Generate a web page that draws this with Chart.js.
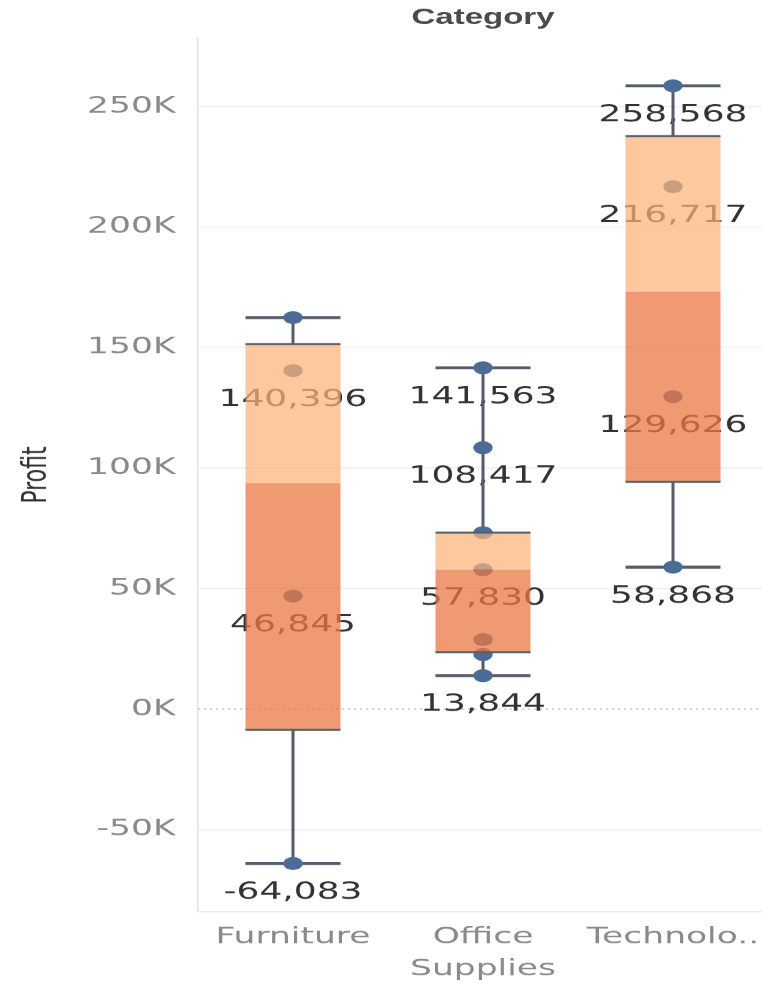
<!DOCTYPE html>
<html>
<head>
<meta charset="utf-8">
<title>Profit by Category</title>
<script src="https://cdn.jsdelivr.net/npm/chart.js@4.4.1/dist/chart.umd.min.js"></script>
<style>
    html, body { margin: 0; padding: 0; background: #fff; overflow: hidden; }
</style>
</head>
<body>
<!-- canvas is drawn 512 wide and stretched x1.5, like the original screenshot; the window crops the last few px -->
<canvas id="profitChart" width="512" height="984" style="display:block;width:768px;height:984px"></canvas>
<script>
// Data
const categories = ['Furniture', 'Office Supplies', 'Technology'];
const tickLabels = ['Furniture', ['Office', 'Supplies'], 'Technolo..'];

const furnitureProfit = [162400, 140396, 46845, -64083];
const officeProfit = [141563, 108417, 73200, 57830, 28800, 22600, 13844];
const technologyProfit = [258568, 216717, 129626, 58868];

const lowerQuartile = [-8619, 23500, 94247];
const medianProfit = [93620, 57830, 173172];
const upperQuartile = [151400, 73200, 237642];
const whiskerLow = [-64083, 13844, 58868];
const whiskerHigh = [162400, 141563, 258568];

const labelledProfit = [
    [140396, 46845, -64083],
    [141563, 108417, 57830, 13844],
    [258568, 216717, 129626, 58868]
];

const FONT = 'DejaVu Sans';
const LINE_COLOR = '#555d69';

// Bigotes, etiquetas y linea del cero
const boxPlotPlugin = {
    id: 'boxPlot',

    beforeDatasetsDraw(chart) {
        const { ctx, chartArea, scales: { x, y } } = chart;
        const boxes = chart.getDatasetMeta(1).data;
        ctx.save();

        // dotted zero line
        const y0 = y.getPixelForValue(0);
        ctx.strokeStyle = '#c6c6c6';
        ctx.lineWidth = 1.5;
        ctx.setLineDash([1.5, 2.5]);
        ctx.beginPath();
        ctx.moveTo(chartArea.left, y0);
        ctx.lineTo(chartArea.right, y0);
        ctx.stroke();
        ctx.setLineDash([]);

        // value labels (under the boxes)
        ctx.font = `24px "${FONT}"`;
        ctx.fillStyle = '#333333';
        ctx.textAlign = 'center';
        ctx.textBaseline = 'middle';
        labelledProfit.forEach((values, i) => {
            const cx = x.getPixelForValue(i);
            values.forEach(v => {
                ctx.fillText(v.toLocaleString('en-US'), cx, y.getPixelForValue(v) + 29);
            });
        });

        // whiskers
        ctx.strokeStyle = LINE_COLOR;
        categories.forEach((c, i) => {
            const cx = x.getPixelForValue(i);
            const half = boxes[i].width / 2;
            ctx.lineWidth = 2;
            ctx.beginPath();
            ctx.moveTo(cx, y.getPixelForValue(upperQuartile[i]));
            ctx.lineTo(cx, y.getPixelForValue(whiskerHigh[i]));
            ctx.moveTo(cx, y.getPixelForValue(lowerQuartile[i]));
            ctx.lineTo(cx, y.getPixelForValue(whiskerLow[i]));
            ctx.stroke();

            ctx.lineWidth = 3;
            ctx.beginPath();
            [whiskerHigh[i], whiskerLow[i]].forEach(v => {
                const py = y.getPixelForValue(v);
                ctx.moveTo(cx - half, py);
                ctx.lineTo(cx + half, py);
            });
            ctx.stroke();
        });
        ctx.restore();
    },

    afterDatasetsDraw(chart) {
        const { ctx, scales: { x, y } } = chart;
        const boxes = chart.getDatasetMeta(1).data;
        ctx.save();
        ctx.strokeStyle = LINE_COLOR;
        ctx.lineWidth = 2;
        ctx.beginPath();
        categories.forEach((c, i) => {
            const cx = x.getPixelForValue(i);
            const half = boxes[i].width / 2;
            [upperQuartile[i], lowerQuartile[i]].forEach(v => {
                const py = y.getPixelForValue(v);
                ctx.moveTo(cx - half, py);
                ctx.lineTo(cx + half, py);
            });
        });
        ctx.stroke();
        ctx.restore();
    }
};

function pointsFor(index, values) {
    return values.map(v => ({ x: categories[index], y: v }));
}

Chart.defaults.font.family = FONT;

new Chart(document.getElementById('profitChart'), {
    data: {
        labels: categories,
        datasets: [
            {
                type: 'line',
                label: 'Profit',
                order: 2,
                showLine: false,
                data: [
                    ...pointsFor(0, furnitureProfit),
                    ...pointsFor(1, officeProfit),
                    ...pointsFor(2, technologyProfit)
                ],
                pointRadius: 6.5,
                pointHoverRadius: 6.5,
                pointBorderWidth: 0,
                pointBackgroundColor: '#4a6c96'
            },
            {
                type: 'bar',
                label: 'Lower box',
                order: 1,
                data: categories.map((c, i) => [lowerQuartile[i], medianProfit[i]]),
                backgroundColor: 'rgba(234, 120, 67, 0.75)',
                borderWidth: 0,
                grouped: false,
                barPercentage: 0.5,
                categoryPercentage: 1
            },
            {
                type: 'bar',
                label: 'Upper box',
                order: 1,
                data: categories.map((c, i) => [medianProfit[i], upperQuartile[i]]),
                backgroundColor: 'rgba(252, 179, 119, 0.72)',
                borderWidth: 0,
                grouped: false,
                barPercentage: 0.5,
                categoryPercentage: 1
            }
        ]
    },
    options: {
        responsive: false,
        devicePixelRatio: 1.5,
        animation: false,
        layout: { autoPadding: false, padding: 0 },
        plugins: {
            legend: { display: false },
            tooltip: { enabled: false },
            title: {
                display: true,
                fullSize: false,
                text: 'Category',
                color: '#4a4a4a',
                font: { family: 'Liberation Sans', size: 22, weight: 'bold' },
                padding: { top: 5, bottom: 6.6 }
            }
        },
        scales: {
            x: {
                offset: true,
                grid: { color: 'rgba(0,0,0,0)', drawTicks: false },
                border: { color: '#e4e4e4' },
                ticks: {
                    color: '#8a8a8a',
                    font: { size: 23, lineHeight: 1.4 },
                    padding: 9,
                    maxRotation: 0,
                    autoSkip: false,
                    callback: (v, i) => tickLabels[i]
                },
                afterFit: scale => {
                    scale.height = 72;
                    scale.paddingLeft = 0;
                    scale.paddingRight = 0;
                }
            },
            y: {
                min: -84200,
                max: 278400,
                grid: {
                    drawTicks: false,
                    color: c => (c.tick && c.tick.value === 0 ? 'rgba(0,0,0,0)' : '#ececec')
                },
                border: { color: '#e4e4e4' },
                ticks: {
                    includeBounds: false,
                    color: '#8a8a8a',
                    font: { size: 23 },
                    padding: 15,
                    callback: v => (v / 1000) + 'K'
                },
                title: {
                    display: true,
                    text: 'Profit',
                    color: '#333333',
                    font: { size: 22 },
                    padding: { top: 11.5, bottom: 0 }
                },
                afterFit: scale => { scale.width = 132; }
            }
        }
    },
    plugins: [boxPlotPlugin]
});
</script>
</body>
</html>
